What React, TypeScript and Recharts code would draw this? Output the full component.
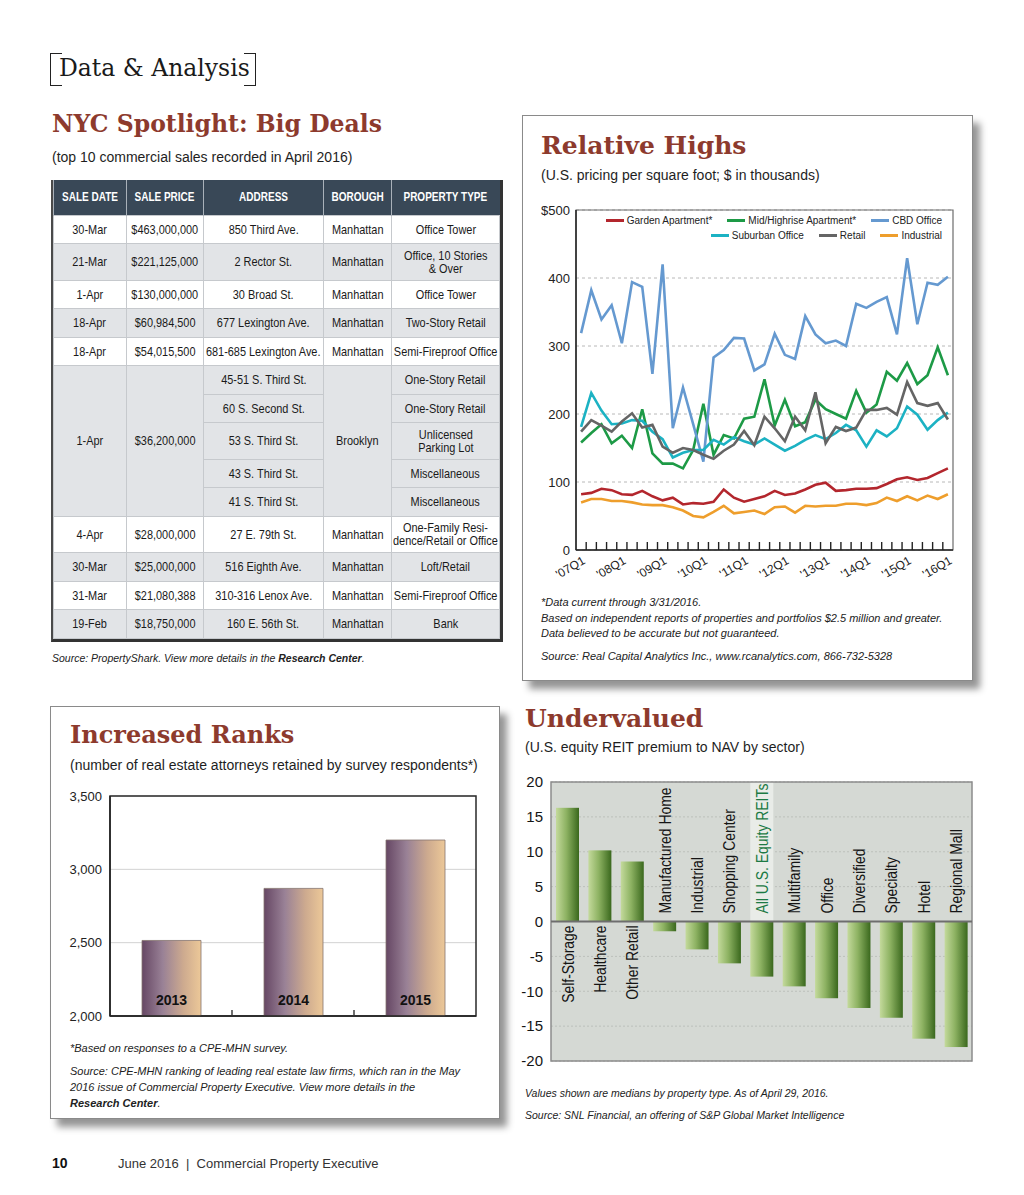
import React from "react";
import {
  LineChart,
  Line,
  BarChart,
  Bar,
  XAxis,
  YAxis,
  CartesianGrid,
  ReferenceArea,
  ReferenceLine,
  Legend,
  LabelList,
} from "recharts";

const SANS = "'Liberation Sans', Arial, Helvetica, sans-serif";
const SERIF = "'DejaVu Serif', 'Liberation Serif', serif";
const RED = "#8d3a2d";

// ---------- NYC Spotlight table ----------
const tableHeaders = ["SALE DATE", "SALE PRICE", "ADDRESS", "BOROUGH", "PROPERTY TYPE"];
const saleDates = ["30-Mar", "21-Mar", "1-Apr", "18-Apr", "18-Apr", "1-Apr", "4-Apr", "30-Mar", "31-Mar", "19-Feb"];
const salePrices = [
  "$463,000,000", "$221,125,000", "$130,000,000", "$60,984,500", "$54,015,500",
  "$36,200,000", "$28,000,000", "$25,000,000", "$21,080,388", "$18,750,000",
];
const boroughs = ["Manhattan", "Manhattan", "Manhattan", "Manhattan", "Manhattan", "Brooklyn", "Manhattan", "Manhattan", "Manhattan", "Manhattan"];
const addresses = [
  ["850 Third Ave."],
  ["2 Rector St."],
  ["30 Broad St."],
  ["677 Lexington Ave."],
  ["681-685 Lexington Ave."],
  ["45-51 S. Third St.", "60 S. Second St.", "53 S. Third St.", "43 S. Third St.", "41 S. Third St."],
  ["27 E. 79th St."],
  ["516 Eighth Ave."],
  ["310-316 Lenox Ave."],
  ["160 E. 56th St."],
];
const propertyTypes = [
  ["Office Tower"],
  ["Office, 10 Stories\n& Over"],
  ["Office Tower"],
  ["Two-Story Retail"],
  ["Semi-Fireproof Office"],
  ["One-Story Retail", "One-Story Retail", "Unlicensed\nParking Lot", "Miscellaneous", "Miscellaneous"],
  ["One-Family Resi-\ndence/Retail or Office"],
  ["Loft/Retail"],
  ["Semi-Fireproof Office"],
  ["Bank"],
];

// ---------- Relative Highs ----------
const quarters = [
  "'07Q1", "'07Q2", "'07Q3", "'07Q4", "'08Q1", "'08Q2", "'08Q3", "'08Q4",
  "'09Q1", "'09Q2", "'09Q3", "'09Q4", "'10Q1", "'10Q2", "'10Q3", "'10Q4",
  "'11Q1", "'11Q2", "'11Q3", "'11Q4", "'12Q1", "'12Q2", "'12Q3", "'12Q4",
  "'13Q1", "'13Q2", "'13Q3", "'13Q4", "'14Q1", "'14Q2", "'14Q3", "'14Q4",
  "'15Q1", "'15Q2", "'15Q3", "'15Q4", "'16Q1",
];
const gardenApt = [82, 84, 90, 88, 82, 81, 87, 79, 73, 77, 67, 69, 68, 71, 89, 77, 71, 75, 79, 87, 81, 83, 89, 96, 99, 87, 88, 90, 90, 91, 97, 104, 107, 103, 106, 113, 120];
const midHighrise = [158, 172, 185, 157, 168, 150, 207, 142, 127, 127, 120, 147, 215, 140, 169, 164, 193, 196, 251, 183, 221, 182, 188, 221, 207, 200, 193, 234, 202, 214, 262, 249, 275, 244, 257, 298, 257];
const cbdOffice = [319, 382, 339, 360, 304, 394, 387, 259, 420, 179, 239, 185, 130, 283, 294, 312, 311, 264, 273, 318, 287, 281, 344, 317, 304, 308, 300, 362, 356, 365, 372, 317, 429, 332, 393, 390, 402];
const suburbanOffice = [181, 231, 205, 185, 186, 191, 190, 174, 163, 136, 143, 147, 147, 162, 155, 166, 160, 155, 164, 155, 146, 153, 162, 169, 163, 172, 184, 176, 152, 176, 167, 179, 211, 199, 177, 191, 202];
const retail = [174, 191, 183, 174, 189, 201, 180, 184, 152, 143, 150, 147, 140, 134, 146, 155, 175, 154, 196, 179, 160, 196, 176, 232, 157, 181, 175, 180, 206, 206, 209, 199, 247, 216, 212, 216, 192];
const industrial = [70, 75, 75, 72, 72, 70, 67, 66, 66, 63, 58, 50, 48, 56, 65, 54, 56, 58, 53, 63, 64, 55, 65, 64, 65, 65, 68, 68, 66, 69, 77, 72, 79, 73, 80, 75, 82];
const priceTicks = [0, 100, 200, 300, 400, 500];

const highsSeries = [
  { key: "garden", name: "Garden Apartment*", color: "#b3262d", values: gardenApt },
  { key: "mid", name: "Mid/Highrise Apartment*", color: "#1d9a46", values: midHighrise },
  { key: "cbd", name: "CBD Office", color: "#6599d0", values: cbdOffice },
  { key: "suburban", name: "Suburban Office", color: "#1cb2c3", values: suburbanOffice },
  { key: "retail", name: "Retail", color: "#656565", values: retail },
  { key: "industrial", name: "Industrial", color: "#ee9e2c", values: industrial },
];

const highsData = quarters.map((q, i) => {
  const row: Record<string, number | string> = { i, q };
  highsSeries.forEach((s) => (row[s.key] = s.values[i]));
  return row;
});

// tick marks sit between quarters, labels sit on each Q1
const quarterTicks: number[] = [];
quarters.forEach((q, i) => {
  if (q.endsWith("Q1")) quarterTicks.push(i);
  if (i < quarters.length - 1) quarterTicks.push(i + 0.5);
});

// ---------- Increased Ranks ----------
const rankYears = ["2013", "2014", "2015"];
const attorneysRetained = [2515, 2870, 3200];
const rankTicks = [2000, 2500, 3000, 3500];
const rankData = rankYears.map((year, i) => ({ year, count: attorneysRetained[i] }));

// ---------- Undervalued ----------
const sectors = [
  "Self-Storage", "Healthcare", "Other Retail", "Manufactured Home", "Industrial",
  "Shopping Center", "All U.S. Equity REITs", "Multifamily", "Office", "Diversified",
  "Specialty", "Hotel", "Regional Mall",
];
const navPremium = [16.3, 10.2, 8.6, -1.4, -4.0, -6.0, -7.9, -9.3, -11.0, -12.4, -13.8, -16.8, -18.0];
const premiumTicks = [-20, -15, -10, -5, 0, 5, 10, 15, 20];
const HIGHLIGHT = "All U.S. Equity REITs";
const reitData = sectors.map((sector, i) => ({ sector, premium: navPremium[i] }));

function Txt({ x, y, size, children, style }: any) {
  return (
    <div
      style={{
        position: "absolute",
        left: x,
        top: y - size / 2,
        fontSize: size,
        lineHeight: `${size}px`,
        whiteSpace: "nowrap",
        fontFamily: SANS,
        color: "#1e1e1e",
        ...style,
      }}
    >
      {children}
    </div>
  );
}

function Title({ x, y, size = 25, children }: any) {
  return (
    <Txt x={x} y={y} size={size} style={{ fontFamily: SERIF, fontWeight: 700, color: RED }}>
      {children}
    </Txt>
  );
}

function Note({ x, y, size = 10.5, children }: any) {
  return (
    <Txt x={x} y={y} size={size} style={{ fontStyle: "italic", color: "#222" }}>
      {children}
    </Txt>
  );
}

// condensed look: squeeze the text horizontally, keep it centred
function Cond({ children, scale = 0.84 }: any) {
  return (
    <div style={{ display: "flex", justifyContent: "center" }}>
      <span style={{ display: "inline-block", whiteSpace: "pre", textAlign: "center", transform: `scaleX(${scale})` }}>
        {children}
      </span>
    </div>
  );
}

function DealsTable() {
  const cell: React.CSSProperties = {
    border: "1.5px solid #c6c9cd",
    padding: 0,
    textAlign: "center",
    verticalAlign: "middle",
    fontFamily: SANS,
    fontSize: 13,
    color: "#1a1a1a",
    lineHeight: "13px",
    overflow: "visible",
  };
  const colWidths = [73, 77, 120, 68, 108];
  return (
    <div
      style={{
        position: "absolute",
        left: 51,
        top: 180,
        borderLeft: "2px solid #4a4a4a",
        borderRight: "3px solid #333",
        borderBottom: "3px solid #333",
      }}
    >
      <table style={{ borderCollapse: "collapse", tableLayout: "fixed", width: 446 }}>
        <colgroup>
          {colWidths.map((w, i) => (
            <col key={i} style={{ width: w }} />
          ))}
        </colgroup>
        <thead>
          <tr style={{ height: 35, background: "#394857" }}>
            {tableHeaders.map((h) => (
              <th
                key={h}
                style={{
                  ...cell,
                  color: "#fff",
                  fontWeight: 700,
                  fontSize: 12.5,
                  border: "none",
                  borderLeft: "1.5px solid #a9b1b9",
                }}
              >
                <Cond scale={0.8}>{h}</Cond>
              </th>
            ))}
          </tr>
        </thead>
        <tbody>
          {saleDates.map((date, di) => {
            const n = addresses[di].length;
            const bg = di % 2 === 1 ? "#e2e4e7" : "#ffffff";
            return addresses[di].map((addr, si) => {
              const type = propertyTypes[di][si];
              const h = type.includes("\n") ? 36.5 : 28.5;
              return (
                <tr key={`${di}-${si}`} style={{ height: h, background: bg }}>
                  {si === 0 && (
                    <td style={cell} rowSpan={n}>
                      <Cond>{date}</Cond>
                    </td>
                  )}
                  {si === 0 && (
                    <td style={cell} rowSpan={n}>
                      <Cond>{salePrices[di]}</Cond>
                    </td>
                  )}
                  <td style={cell}>
                    <Cond>{addr}</Cond>
                  </td>
                  {si === 0 && (
                    <td style={cell} rowSpan={n}>
                      <Cond>{boroughs[di]}</Cond>
                    </td>
                  )}
                  <td style={cell}>
                    <Cond>{type}</Cond>
                  </td>
                </tr>
              );
            });
          })}
        </tbody>
      </table>
    </div>
  );
}

function QuarterTick({ x, y, payload }: any) {
  const v = payload.value;
  if (Number.isInteger(v)) {
    return (
      <g transform={`translate(${x + 5},${y + 13}) rotate(-30)`}>
        <text textAnchor="end" fontSize={12} fill="#222" fontFamily={SANS}>
          {quarters[v]}
        </text>
      </g>
    );
  }
  return <line x1={x} x2={x} y1={y} y2={y - 8} stroke="#222" strokeWidth={1.4} />;
}

function HighsLegend({ payload }: any) {
  const order = highsSeries.map((s) => s.name);
  const items = [...(payload || [])].sort((a: any, b: any) => order.indexOf(a.value) - order.indexOf(b.value));
  const rows = [items.slice(0, 3), items.slice(3)];
  return (
    <div
      style={{
        display: "flex",
        flexDirection: "column",
        alignItems: "flex-end",
        fontFamily: SANS,
        fontSize: 10,
        color: "#222",
        lineHeight: "15px",
      }}
    >
      {rows.map((row: any[], r: number) => (
        <div key={r} style={{ display: "flex", gap: 15 }}>
          {row.map((p: any) => (
            <div key={p.value} style={{ display: "flex", alignItems: "center" }}>
              <span style={{ display: "inline-block", width: 18, height: 3, background: p.color, marginRight: 3 }} />
              <span>{p.value}</span>
            </div>
          ))}
        </div>
      ))}
    </div>
  );
}

function RelativeHighsChart() {
  return (
    <div style={{ position: "absolute", left: 530, top: 200 }}>
      <LineChart width={440} height={390} data={highsData} margin={{ top: 10, right: 17, left: 0, bottom: 0 }}>
        <CartesianGrid vertical={false} stroke="#b8b8b8" strokeDasharray="3 3" />
        <ReferenceArea x1={-0.5} x2={36.5} y1={0} y2={500} fill="none" stroke="#6d6d6d" strokeWidth={1.2} />
        <XAxis
          dataKey="i"
          type="number"
          domain={[-0.5, 36.5]}
          ticks={quarterTicks}
          interval={0}
          height={40}
          tickSize={0}
          tickMargin={0}
          tickLine={false}
          axisLine={{ stroke: "#222", strokeWidth: 1.5 }}
          tick={<QuarterTick />}
          allowDataOverflow
        />
        <YAxis
          domain={[0, 500]}
          ticks={priceTicks}
          width={46}
          tickSize={0}
          tickMargin={6}
          tickLine={false}
          axisLine={{ stroke: "#222", strokeWidth: 1.5 }}
          tick={{ fontSize: 13, fill: "#222", fontFamily: SANS }}
          tickFormatter={(v: number) => (v === 500 ? "$500" : String(v))}
        />
        <Legend content={<HighsLegend />} verticalAlign="middle" wrapperStyle={{ top: 13, right: 28, width: "auto" }} />
        {highsSeries.map((s) => (
          <Line
            key={s.key}
            dataKey={s.key}
            name={s.name}
            stroke={s.color}
            strokeWidth={2.6}
            dot={false}
            activeDot={false}
            type="linear"
            isAnimationActive={false}
          />
        ))}
      </LineChart>
    </div>
  );
}

function RankBoundaryTick({ x, y, index }: any) {
  // ticks sit on the boundary between year columns
  if (index >= rankYears.length - 1) return <g />;
  const half = 61;
  return <line x1={x + half} x2={x + half} y1={y} y2={y - 6} stroke="#333" strokeWidth={1.4} />;
}

function IncreasedRanksChart() {
  return (
    <div style={{ position: "absolute", left: 50, top: 786 }}>
      <BarChart width={440} height={240} data={rankData} margin={{ top: 10, right: 14, left: 0, bottom: 0 }}>
        <defs>
          <linearGradient id="rankGrad" x1="0" y1="0" x2="1" y2="0">
            <stop offset="0%" stopColor="#664764" />
            <stop offset="35%" stopColor="#998196" />
            <stop offset="70%" stopColor="#cdaa8f" />
            <stop offset="100%" stopColor="#ecc898" />
          </linearGradient>
        </defs>
        <CartesianGrid vertical={false} stroke="#d2d2d2" />
        <XAxis
          dataKey="year"
          height={10}
          interval={0}
          tickSize={0}
          tickMargin={0}
          tickLine={false}
          axisLine={{ stroke: "#222", strokeWidth: 1.5 }}
          tick={<RankBoundaryTick />}
        />
        <YAxis
          domain={[2000, 3500]}
          ticks={rankTicks}
          width={60}
          tickSize={0}
          tickMargin={8}
          tickLine={false}
          axisLine={{ stroke: "#222", strokeWidth: 1.5 }}
          tick={{ fontSize: 13, fill: "#222", fontFamily: SANS }}
          tickFormatter={(v: number) => v.toLocaleString("en-US")}
        />
        <ReferenceArea x1="2013" x2="2015" y1={2000} y2={3500} fill="none" stroke="#2a2a2a" strokeWidth={1.5} />
        <Bar dataKey="count" barSize={59} fill="url(#rankGrad)" stroke="#85746f" strokeWidth={0.8} isAnimationActive={false}>
          <LabelList
            dataKey="year"
            position="insideBottom"
            offset={11}
            style={{ fontFamily: SANS, fontWeight: 700, fontSize: 14, fill: "#111" }}
          />
        </Bar>
      </BarChart>
    </div>
  );
}

function SectorBar(props: any) {
  const { x, y, width, height, payload } = props;
  const top = Math.min(y, y + height);
  const h = Math.abs(height);
  const positive = payload.premium >= 0;
  const zeroY = positive ? top + h : top;
  const cx = x + width / 2;
  const hl = payload.sector === HIGHLIGHT;
  return (
    <g>
      <rect x={x} y={top} width={width} height={h} fill="url(#reitGrad)" />
      <text
        transform={`translate(${cx + 6},${positive ? zeroY + 4 : zeroY - 8}) rotate(-90) scale(0.87,1)`}
        textAnchor={positive ? "end" : "start"}
        fontFamily={SANS}
        fontSize={16}
        fill={hl ? "#1c7a44" : "#151515"}
      >
        {payload.sector}
      </text>
    </g>
  );
}

function HighlightBg(props: any) {
  const name = props.payload?.sector ?? sectors[props.index];
  if (name !== HIGHLIGHT) return <g />;
  return <rect x={props.x} y={props.y} width={props.width} height={props.height / 2} fill="#e9ece8" />;
}

function UndervaluedChart() {
  return (
    <div style={{ position: "absolute", left: 510, top: 771 }}>
      <BarChart width={470} height={300} data={reitData} margin={{ top: 11, right: 8, left: 0, bottom: 10 }}>
        <defs>
          <linearGradient id="reitGrad" x1="0" y1="0" x2="1" y2="0">
            <stop offset="0%" stopColor="#c4da9c" />
            <stop offset="45%" stopColor="#8db262" />
            <stop offset="100%" stopColor="#3a681d" />
          </linearGradient>
        </defs>
        <CartesianGrid vertical={false} fill="#d5d9d4" stroke="#bcc0bb" strokeDasharray="2 2" />
        <XAxis dataKey="sector" hide />
        <YAxis
          domain={[-20, 20]}
          ticks={premiumTicks}
          width={41}
          tickSize={0}
          tickMargin={8}
          tickLine={false}
          axisLine={false}
          tick={{ fontSize: 15, fill: "#151515", fontFamily: SANS }}
        />
        <ReferenceArea
          x1={sectors[0]}
          x2={sectors[sectors.length - 1]}
          y1={-20}
          y2={20}
          fill="none"
          stroke="#8c8c8c"
          strokeWidth={1.5}
        />
        <ReferenceLine y={0} stroke="#6e6e6e" strokeWidth={2} />
        <Bar
          dataKey="premium"
          barSize={23}
          shape={<SectorBar />}
          background={HighlightBg}
          isAnimationActive={false}
        />
      </BarChart>
    </div>
  );
}

export default function App() {
  return (
    <div
      style={{
        position: "absolute",
        left: 0,
        top: 0,
        width: 1024,
        height: 1195,
        background: "#ffffff",
        overflow: "hidden",
        fontFamily: SANS,
      }}
    >
      {/* section header */}
      <div style={{ position: "absolute", left: 50, top: 53, width: 11, height: 31, borderLeft: "1.5px solid #222", borderTop: "1.5px solid #222", borderBottom: "1.5px solid #222" }} />
      <div style={{ position: "absolute", left: 244, top: 53, width: 11, height: 31, borderRight: "1.5px solid #222", borderTop: "1.5px solid #222", borderBottom: "1.5px solid #222" }} />
      <div style={{ position: "absolute", left: 59, top: 57, fontFamily: "'DejaVu Serif', serif", fontSize: 23.5, lineHeight: "23px", color: "#1a1a1a", whiteSpace: "nowrap" }}>
        Data &amp; Analysis
      </div>

      {/* NYC Spotlight */}
      <Title x={52} y={125} size={23.5}>NYC Spotlight: Big Deals</Title>
      <Txt x={52} y={157} size={14}>(top 10 commercial sales recorded in April 2016)</Txt>
      <DealsTable />
      <Note x={52} y={658}>
        Source: PropertyShark. View more details in the <b>Research Center</b>.
      </Note>

      {/* Relative Highs */}
      <div style={{ position: "absolute", left: 522, top: 115, width: 449, height: 564, border: "1px solid #8a8a8a", boxShadow: "7px 8px 7px rgba(0,0,0,0.42)", background: "#fff" }} />
      <Title x={541} y={145}>Relative Highs</Title>
      <Txt x={541} y={175} size={14}>(U.S. pricing per square foot; $ in thousands)</Txt>
      <RelativeHighsChart />
      <Note x={541} y={602} size={11}>*Data current through 3/31/2016.</Note>
      <Note x={541} y={618} size={11}>Based on independent reports of properties and portfolios $2.5 million and greater.</Note>
      <Note x={541} y={633} size={11}>Data believed to be accurate but not guaranteed.</Note>
      <Note x={541} y={656} size={11}>Source: Real Capital Analytics Inc., www.rcanalytics.com, 866-732-5328</Note>

      {/* Increased Ranks */}
      <div style={{ position: "absolute", left: 50, top: 706, width: 448, height: 411, border: "1px solid #8a8a8a", boxShadow: "7px 8px 7px rgba(0,0,0,0.42)", background: "#fff" }} />
      <Title x={70} y={735} size={24}>Increased Ranks</Title>
      <Txt x={70} y={765} size={14}>(number of real estate attorneys retained by survey respondents*)</Txt>
      <IncreasedRanksChart />
      <Note x={70} y={1048} size={11}>*Based on responses to a CPE-MHN survey.</Note>
      <Note x={70} y={1071} size={11}>Source: CPE-MHN ranking of leading real estate law firms, which ran in the May</Note>
      <Note x={70} y={1087} size={11}>2016 issue of Commercial Property Executive. View more details in the</Note>
      <Note x={70} y={1103} size={11}>
        <b>Research Center</b>.
      </Note>

      {/* Undervalued */}
      <Title x={525} y={718}>Undervalued</Title>
      <Txt x={525} y={747} size={14}>(U.S. equity REIT premium to NAV by sector)</Txt>
      <UndervaluedChart />
      <Note x={525} y={1093}>Values shown are medians by property type. As of April 29, 2016.</Note>
      <Note x={525} y={1115}>Source: SNL Financial, an offering of S&amp;P Global Market Intelligence</Note>

      {/* footer */}
      <Txt x={52} y={1163} size={14} style={{ fontWeight: 700, color: "#111" }}>10</Txt>
      <Txt x={118} y={1163} size={13} style={{ color: "#333" }}>
        June 2016 &nbsp;|&nbsp; Commercial Property Executive
      </Txt>
    </div>
  );
}
